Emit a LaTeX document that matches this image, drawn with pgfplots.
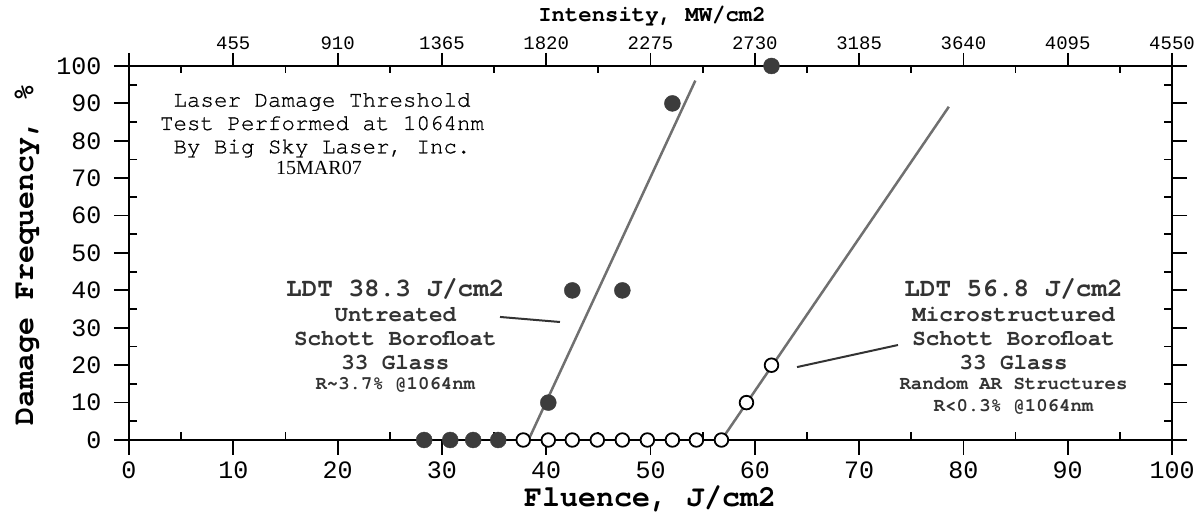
\documentclass[border=0pt]{standalone}
\usepackage{fontspec}
\setmainfont{Liberation Mono}
\newfontfamily\cour{texgyrecursor}[Extension=.otf, UprightFont=*-regular, BoldFont=*-bold]
\newfontfamily\courmed{texgyrecursor-regular.otf}[FakeBold=0.8]
\newfontfamily\timesfont{Liberation Serif}
\usepackage{pgfplots}
\pgfplotsset{compat=1.18}
\definecolor{dot}{HTML}{3C3C3C}
\definecolor{fitgray}{HTML}{707070}
\definecolor{note}{HTML}{333333}
\newcommand\fs[1]{\fontsize{#1}{#1}\selectfont}

% damage frequency (%) versus fluence (J/cm2)
\pgfplotstableread{
x    y
28.3 0
30.8 0
33.0 0
35.4 0
40.2 10
42.5 40
47.3 40
52.1 90
61.6 100
}\untreated
\pgfplotstableread{
x    y
37.8 0
40.2 0
42.5 0
44.9 0
47.3 0
49.7 0
52.1 0
54.4 0
56.8 0
59.2 10
61.6 20
}\microstructured

\begin{document}
\begin{tikzpicture}[x=1pt,y=1pt]
\useasboundingbox (0,0) rectangle (1202,514);
\pgfplotsset{
  frame/.style={scale only axis, width=1043pt, height=374pt,
    at={(129pt,74pt)}, anchor=south west,
    xmin=0, xmax=100, ymin=0, ymax=100},
  ticky/.style={axis line style={line width=1.8pt, black},
    tick style={line width=1.8pt, black}, tick align=outside},
}

% frame with left, right and bottom ticks
\begin{axis}[frame, ticky,
  major tick length=15pt, minor tick length=-8pt,
  xtick={0,10,...,100}, ytick={0,10,...,100},
  minor x tick num=1, minor y tick num=1,
  xtick pos=bottom, ytick pos=both, yticklabel pos=left,
  ticklabel style={font=\fs{25}},
  xticklabel style={yshift=-3pt},
  yticklabel style={xshift=-9pt},
  /pgf/number format/assume math mode=true,
]
\end{axis}

% intensity scale along the top
\begin{axis}[frame, ticky, hide y axis,
  major tick length=13pt, minor tick length=-7pt,
  xtick={0,10,...,100}, minor x tick num=1,
  xtick pos=top, xticklabel pos=top,
  xticklabels={,455,910,1365,1820,2275,2730,3185,3640,4095,4550},
  xticklabel style={font=\fs{19}},
]
\end{axis}

% data
\begin{axis}[frame, hide axis, clip=false]
\addplot[fitgray, line width=2.5pt] coordinates {(38.3,0) (54.3,96.1)};
\addplot[fitgray, line width=2.5pt] coordinates {(56.8,0) (78.6,89.1)};
\draw[note, line width=2pt] (axis cs:35.57,32.9) -- (axis cs:41.32,31.55);
\draw[note, line width=2pt] (axis cs:64.05,19.5) -- (axis cs:73.73,25.4);
\addplot[only marks, mark=*, mark size=8pt, mark options={fill=dot, draw=dot}]
  table[x=x, y=y] {\untreated};
\addplot[only marks, mark=*, mark size=6.8pt,
  mark options={fill=white, draw=black, line width=1.8pt}]
  table[x=x, y=y] {\microstructured};
\end{axis}

% axis titles
\node[anchor=base, font=\cour\bfseries\fs{22.3}] at (652,492.3) {Intensity, MW/cm2};
\node[anchor=base, font=\cour\bfseries\fs{30}] at (650,7.5) {Fluence, J/cm2};
\node[anchor=base, rotate=90, font=\cour\bfseries\fs{30}] at (33,259) {Damage Frequency, \%};

% test description
\begin{scope}[every node/.style={anchor=base, inner sep=0pt, font=\courmed\fs{22.5}}]
\node at (322,407.3) {Laser Damage Threshold};
\node at (322,384) {Test Performed at 1064nm};
\node at (322,360.7) {By Big Sky Laser, Inc.};
\node[font=\timesfont\fs{20}] at (319,339.7) {15MAR07};
\end{scope}

% sample notes
\begin{scope}[every node/.style={anchor=base, inner sep=0pt, text=note, font=\cour\bfseries\fs{22.5}}]
\node[font=\cour\bfseries\fs{26}] at (395.3,217) {LDT 38.3 J/cm2};
\node at (395.3,192.5) {Untreated};
\node at (395.3,168) {Schott Borofloat};
\node at (395.3,144.5) {33 Glass};
\node[font=\cour\bfseries\fs{19}] at (395.3,124.5) {R\textasciitilde 3.7\% @1064nm};
\node[font=\cour\bfseries\fs{26}] at (1013.5,217) {LDT 56.8 J/cm2};
\node at (1013.5,192.5) {Microstructured};
\node at (1013.5,168) {Schott Borofloat};
\node at (1013.5,144.5) {33 Glass};
\node[font=\cour\bfseries\fs{19}] at (1013.5,124.5) {Random AR Structures};
\node[font=\cour\bfseries\fs{19}] at (1013.5,102.5) {R<0.3\% @1064nm};
\end{scope}
\end{tikzpicture}
\end{document}
